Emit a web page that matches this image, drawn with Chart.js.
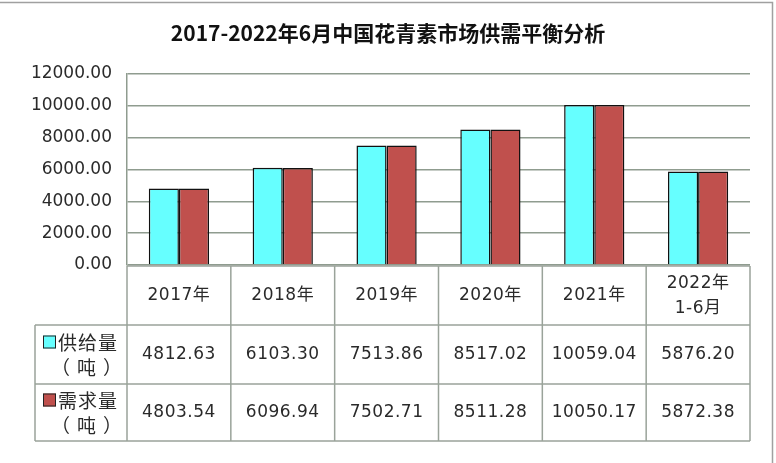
<!DOCTYPE html>
<html>
<head>
<meta charset="utf-8">
<script src="https://cdn.jsdelivr.net/npm/chart.js@4.4.1/dist/chart.umd.min.js"></script>
<style>
  html, body { margin: 0; padding: 0; background: #fff; }
</style>
</head>
<body>
<canvas id="chart" width="776" height="463"></canvas>
<script>
// 数据
const categories = [["2017年"], ["2018年"], ["2019年"], ["2020年"], ["2021年"], ["2022年", "1-6月"]];
const supply = [4812.63, 6103.30, 7513.86, 8517.02, 10059.04, 5876.20];
const demand = [4803.54, 6096.94, 7502.71, 8511.28, 10050.17, 5872.38];
const seriesNames = ["供给量", "需求量"];
const unitLabel = "（吨）";
const yTicks = [0, 2000, 4000, 6000, 8000, 10000, 12000];

const colors = ['#66ffff', '#c0504d'];
const gridColor = '#8f9c8f';
const tableColor = '#9aa39a';
const textFont = '17px "DejaVu Sans", "Noto Sans CJK SC", sans-serif';
const cjkFont = '19px "Noto Sans CJK SC", sans-serif';

// tableau de données sous le graphique
const dataTable = {
    id: 'dataTable',
    afterDraw(chart) {
        const ctx = chart.ctx;
        const x = chart.scales.x;
        const area = chart.chartArea;
        const n = categories.length;
        const colW = (area.right - area.left) / n;
        const top = area.bottom + 1;
        const rows = [top, top + 59, top + 118, top + 175];
        const labelLeft = 35;

        ctx.save();
        ctx.strokeStyle = tableColor;
        ctx.lineWidth = 1.5;
        ctx.beginPath();
        // lignes horizontales
        ctx.moveTo(area.left, rows[0]); ctx.lineTo(area.right, rows[0]);
        for (let r = 1; r < rows.length; r++) {
            ctx.moveTo(labelLeft, rows[r]); ctx.lineTo(area.right, rows[r]);
        }
        // lignes verticales
        for (let i = 0; i <= n; i++) {
            const px = area.left + i * colW;
            ctx.moveTo(px, rows[0]); ctx.lineTo(px, rows[3]);
        }
        ctx.moveTo(labelLeft, rows[1]); ctx.lineTo(labelLeft, rows[3]);
        ctx.stroke();

        ctx.fillStyle = '#2a2a2a';
        ctx.font = textFont;
        ctx.textAlign = 'center';
        ctx.textBaseline = 'middle';
        ctx.letterSpacing = '0.5px';

        categories.forEach((lines, i) => {
            const cx = x.getPixelForValue(i);
            const mid = (rows[0] + rows[1]) / 2;
            if (lines.length === 1) {
                ctx.fillText(lines[0], cx, mid);
            } else {
                ctx.fillText(lines[0], cx, mid - 12);
                ctx.fillText(lines[1], cx, mid + 13);
            }
            ctx.fillText(supply[i].toFixed(2), cx, (rows[1] + rows[2]) / 2);
            ctx.fillText(demand[i].toFixed(2), cx, (rows[2] + rows[3]) / 2);
        });

        // étiquettes des séries avec légende
        ctx.font = cjkFont;
        ctx.textAlign = 'left';
        [supply, demand].forEach((s, k) => {
            const mid = (rows[k + 1] + rows[k + 2]) / 2;
            ctx.fillStyle = colors[k];
            ctx.fillRect(43, mid - 19, 13, 13);
            ctx.strokeStyle = '#222';
            ctx.lineWidth = 1;
            ctx.strokeRect(43.5, mid - 18.5, 12, 12);
            ctx.fillStyle = '#2a2a2a';
            ctx.letterSpacing = '1px';
            ctx.fillText(seriesNames[k], 58, mid - 12);
            ctx.letterSpacing = '7px';
            ctx.fillText(unitLabel, 51, mid + 13);
        });

        // cadre extérieur
        ctx.letterSpacing = '0px';
        ctx.strokeStyle = '#a0a0a0';
        ctx.lineWidth = 1.5;
        ctx.beginPath();
        ctx.moveTo(0, 2.5); ctx.lineTo(772.5, 2.5); ctx.lineTo(772.5, 463);
        ctx.stroke();
        ctx.restore();
    }
};

new Chart(document.getElementById('chart'), {
    type: 'bar',
    data: {
        labels: categories,
        datasets: [
            { label: seriesNames[0], data: supply, backgroundColor: colors[0], borderColor: '#111', borderWidth: 1.5 },
            { label: seriesNames[1], data: demand, backgroundColor: colors[1], borderColor: '#111', borderWidth: 1.5 }
        ]
    },
    options: {
        responsive: false,
        animation: false,
        devicePixelRatio: 1,
        layout: { padding: { left: 0, right: 0, top: 0, bottom: 198 } },
        datasets: { bar: { categoryPercentage: 0.58, barPercentage: 1 } },
        plugins: {
            legend: { display: false },
            tooltip: { enabled: false },
            title: {
                display: true,
                text: '2017-2022年6月中国花青素市场供需平衡分析',
                color: '#111',
                font: { family: '"Noto Sans CJK SC", sans-serif', size: 21, weight: 'bold' },
                padding: { top: 20, bottom: 28.8 }
            }
        },
        scales: {
            x: { display: false },
            y: {
                min: yTicks[0],
                max: yTicks[yTicks.length - 1],
                afterFit(scale) { scale.width = 127; },
                afterBuildTicks(scale) { scale.ticks = yTicks.map(v => ({ value: v })); },
                ticks: {
                    color: '#2a2a2a',
                    font: { family: '"DejaVu Sans", sans-serif', size: 17 },
                    padding: 15,
                    callback: v => v.toFixed(2)
                },
                grid: { color: gridColor, lineWidth: 1.5, drawTicks: false },
                border: { color: gridColor, width: 1.5 }
            },
            // marge droite réservée
            yRight: {
                position: 'right',
                min: yTicks[0],
                max: yTicks[yTicks.length - 1],
                afterFit(scale) { scale.width = 26; },
                ticks: { display: false },
                grid: { display: false, drawTicks: false },
                border: { display: false }
            }
        }
    },
    plugins: [dataTable]
});
</script>
</body>
</html>
